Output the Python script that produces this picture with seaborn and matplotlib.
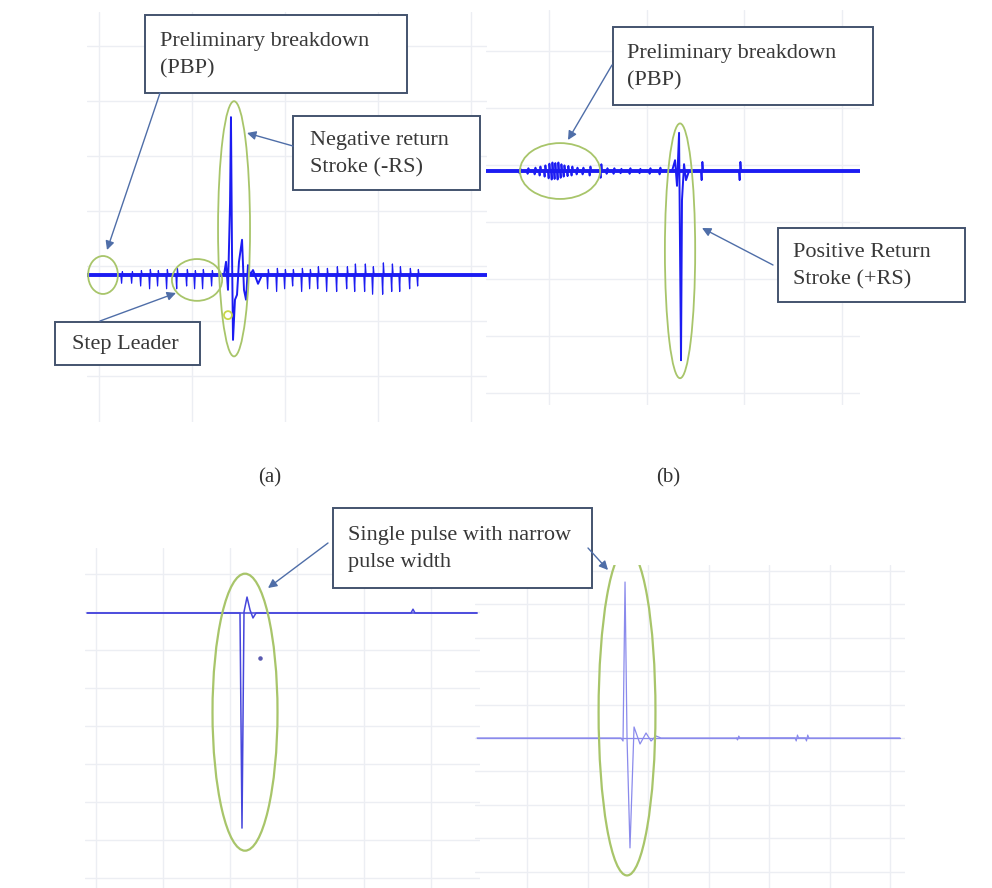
import numpy as np
import pandas as pd
import seaborn as sns
import matplotlib.pyplot as plt
from matplotlib.patches import Ellipse, Rectangle

# ---- data (time / amplitude in grid divisions) ----

# (a) negative flash: preliminary breakdown, step leader pulses, -RS
a_pulse_t = [-0.13, 1.344, 1.366, 1.387, 1.409, 1.419, 1.430, 1.441, 1.462, 1.484, 1.505,
             1.538, 1.559, 1.581, 1.602, 1.624, 1.656, 1.710, 1.753, 4.17]
a_pulse_v = [0, 0, 0.24, -0.27, 1.31, 2.87, 0.45, -1.18, -0.45, -0.36, 0.24,
             0.64, -0.27, -0.45, 0.18, 0, 0.09, -0.16, 0, 0]
a_spike_t = [0.247, 0.355, 0.452, 0.548, 0.634, 0.731, 0.839, 0.946, 1.032, 1.118, 1.215,
             1.817, 1.914, 2.000, 2.086, 2.183, 2.269, 2.355, 2.452, 2.559, 2.667, 2.753,
             2.860, 2.946, 3.054, 3.151, 3.237, 3.344, 3.430]
a_spike_lo = [-0.15, -0.15, -0.2, -0.25, -0.2, -0.25, -0.25, -0.2, -0.25, -0.25, -0.2,
              -0.25, -0.3, -0.25, -0.2, -0.3, -0.25, -0.25, -0.3, -0.3, -0.25, -0.3,
              -0.3, -0.35, -0.35, -0.3, -0.3, -0.25, -0.2]
a_spike_hi = [0.06, 0.06, 0.08, 0.1, 0.08, 0.1, 0.12, 0.1, 0.08, 0.1, 0.08,
              0.1, 0.12, 0.1, 0.1, 0.12, 0.1, 0.15, 0.12, 0.15, 0.15, 0.2,
              0.2, 0.15, 0.22, 0.2, 0.15, 0.12, 0.1]

# (b) positive flash: PBP burst and +RS
b_pulse_t = [-0.645, 1.259, 1.290, 1.310, 1.331, 1.341, 1.351, 1.361, 1.382, 1.402, 1.433, 3.183]
b_pulse_v = [0, 0, 0.19, -0.26, 0.67, -1.39, -3.32, -0.51, 0.12, -0.16, 0, 0]
b_spike_t = [-0.297, -0.215, -0.143, -0.092, -0.041, 0.0, 0.031, 0.061, 0.092, 0.123, 0.154,
             0.194, 0.235, 0.287, 0.348, 0.420, 0.532, 0.594, 0.665, 0.737, 0.829, 0.931,
             1.034, 1.136, 1.566, 1.955]
b_spike_a = [0.04, 0.05, 0.06, 0.08, 0.1, 0.13, 0.15, 0.14, 0.15, 0.12, 0.1,
             0.09, 0.08, 0.06, 0.06, 0.08, 0.12, 0.05, 0.05, 0.04, 0.05, 0.04,
             0.05, 0.06, 0.16, 0.16]

# (c) single narrow pulse (negative)
c_pulse_t = [-1.13, 1.149, 1.179, 1.209, 1.254, 1.299, 1.343, 1.388, 3.701, 3.731, 3.761, 4.687]
c_pulse_v = [0, 0, -5.66, 0.03, 0.42, 0.08, -0.13, 0, 0, 0.1, 0, 0]
c_dot = (1.448, -1.18)

# (d) single narrow pulse (positive)
d_pulse_t = [-0.826, 1.554, 1.587, 1.620, 1.653, 1.702, 1.769, 1.868, 1.967, 2.050, 2.132, 2.215, 6.165]
d_pulse_v = [0, 0, -0.09, 4.67, 0, -3.29, 0.33, -0.18, 0.15, -0.09, 0.06, 0, 0]
d_spike_t = [3.49, 4.46, 4.63]
d_spike_a = [0.06, 0.09, 0.09]

# highlighted regions (centre t, centre v, width, height)
a_marks = [(0.043, 0, 0.32, 0.69), (1.054, -0.09, 0.54, 0.76), (1.452, 0.84, 0.344, 4.64)]
b_marks = [(0.113, 0, 0.82, 0.98), (1.341, -1.40, 0.31, 4.47)]
c_marks = [(1.224, -2.61, 0.97, 7.29)]
d_marks = [(1.653, 0.78, 0.94, 9.79)]

callouts = ["Preliminary breakdown\n(PBP)", "Negative return\nStroke (-RS)", "Step Leader",
            "Preliminary breakdown\n(PBP)", "Positive Return\nStroke (+RS)",
            "Single pulse with narrow\npulse width"]
panel_labels = ["(a)", "(b)"]


def build(base_t, base_v, s_t=(), s_lo=(), s_hi=(), w=0.012):
    t, v = list(base_t), list(base_v)
    for s, lo, hi in zip(s_t, s_lo, s_hi):
        t += [s - w, s - w / 3, s + w / 3, s + w]
        v += [0, lo, hi, 0]
    return pd.DataFrame({"t": t, "v": v}).sort_values("t", kind="stable")


sns.set_style("white")
plt.rcParams['font.family'] = ['Liberation Serif', 'DejaVu Serif']

W, H = 992, 888
fig = plt.figure(figsize=(W / 100, H / 100), dpi=100)
fig.patch.set_facecolor("white")


def panel(px, xlim, ylim, xt, yt):
    x0, y0, x1, y1 = px
    ax = fig.add_axes([x0 / W, 1 - y1 / H, (x1 - x0) / W, (y1 - y0) / H])
    ax.set_xlim(*xlim)
    ax.set_ylim(*ylim)
    ax.set_xticks(xt)
    ax.set_yticks(yt)
    ax.tick_params(length=0, labelbottom=False, labelleft=False)
    ax.grid(True, color="#eceef3", lw=1.0)
    for s in ax.spines.values():
        s.set_visible(False)
    ax.set_facecolor("none")
    return ax


def marks(ax, items, lw=1.3):
    for cx, cy, w, h in items:
        ax.add_patch(Ellipse((cx, cy), w, h, fill=False, ec="#a8c56a", lw=lw, zorder=5))


def draw(ax, base_t, base_v, color, lw, base_lw, s_t=(), s_lo=(), s_hi=(), s_lw=0.9, w=0.012):
    sweep = pd.DataFrame({"t": [base_t[0], base_t[-1]], "v": [0, 0]})
    sns.lineplot(data=sweep, x="t", y="v", ax=ax, estimator=None, color=color, lw=base_lw)
    if len(s_t):
        sns.lineplot(data=build([], [], s_t, s_lo, s_hi, w), x="t", y="v", ax=ax,
                     sort=False, estimator=None, color=color, lw=s_lw)
    sns.lineplot(data=build(base_t, base_v), x="t", y="v", ax=ax,
                 sort=False, estimator=None, color=color, lw=lw)
    ax.set_xlabel("")
    ax.set_ylabel("")


ax_a = panel((87, 12, 487, 422), (-0.129, 4.172), (-2.673, 4.782),
             range(0, 5), np.arange(-1.836, 4.5, 1))
ax_b = panel((486, 10, 860, 405), (-0.645, 3.183), (-4.105, 2.825),
             range(0, 4), np.arange(-3.895, 2.5, 1))
ax_c = panel((85, 548, 480, 888), (-1.164, 4.731), (-7.237, 1.711),
             range(-1, 5), np.arange(-6.97, 1.5, 1))
ax_d = panel((475, 565, 905, 888), (-0.860, 6.248), (-4.491, 5.180),
             range(0, 7), range(-4, 6))

draw(ax_a, a_pulse_t, a_pulse_v, "#1c1cf2", 1.4, 2.8, a_spike_t, a_spike_lo, a_spike_hi, s_lw=0.9)
draw(ax_b, b_pulse_t, b_pulse_v, "#1c1cf2", 1.4, 2.8, b_spike_t, [-a for a in b_spike_a], b_spike_a,
     s_lw=1.3)
draw(ax_c, c_pulse_t, c_pulse_v, "#4646dc", 1.1, 1.1)
draw(ax_d, d_pulse_t, d_pulse_v, "#8a8aec", 0.9, 0.9, d_spike_t, [-a for a in d_spike_a], d_spike_a,
     s_lw=0.8, w=0.03)
ax_c.scatter([c_dot[0]], [c_dot[1]], s=5, color="#5a5ab0", zorder=4)

marks(ax_a, a_marks)
ax_a.add_patch(Ellipse((1.387, -0.73), 0.086, 0.145, fill=False, ec="#c8d84a", lw=1.3, zorder=5))
marks(ax_b, b_marks)
marks(ax_c, c_marks, lw=1.6)
marks(ax_d, d_marks, lw=1.6)

# ---- annotation layer in pixel space ----
ov = fig.add_axes([0, 0, 1, 1], zorder=10)
ov.set_xlim(0, W)
ov.set_ylim(H, 0)
ov.axis("off")
ov.patch.set_alpha(0)

boxes = [(145, 15, 407, 93), (293, 116, 480, 190), (55, 322, 200, 365),
         (613, 27, 873, 105), (778, 228, 965, 302), (333, 508, 592, 588)]
text_left = [160, 310, 72, 627, 793, 348]
for (x0, y0, x1, y1), txt, tx in zip(boxes, callouts, text_left):
    ov.add_patch(Rectangle((x0, y0), x1 - x0, y1 - y0, fc="white", ec="#43536e", lw=1.4, zorder=2))
    ov.text(tx, (y0 + y1) / 2 + 1, txt, fontsize=16, color="#383838", va="center", ha="left",
            linespacing=1.55, zorder=3)

arrows = [((160, 93), (107, 250)), ((293, 146), (247, 133)), ((100, 321), (176, 293)),
          ((612, 65), (568, 140)), ((773, 265), (702, 228)),
          ((328, 543), (268, 588)), ((588, 548), (608, 570))]
for (sx, sy), (ex, ey) in arrows:
    ov.annotate("", xy=(ex, ey), xytext=(sx, sy),
                arrowprops=dict(arrowstyle="-|>", color="#4f6ea8", lw=1.0,
                                mutation_scale=13, shrinkA=0, shrinkB=0), zorder=4)

for lab, x in zip(panel_labels, [270, 668]):
    ov.text(x, 478, lab, fontsize=15, color="#333333", ha="center", va="center")

fig.savefig("out.png", dpi=100)
